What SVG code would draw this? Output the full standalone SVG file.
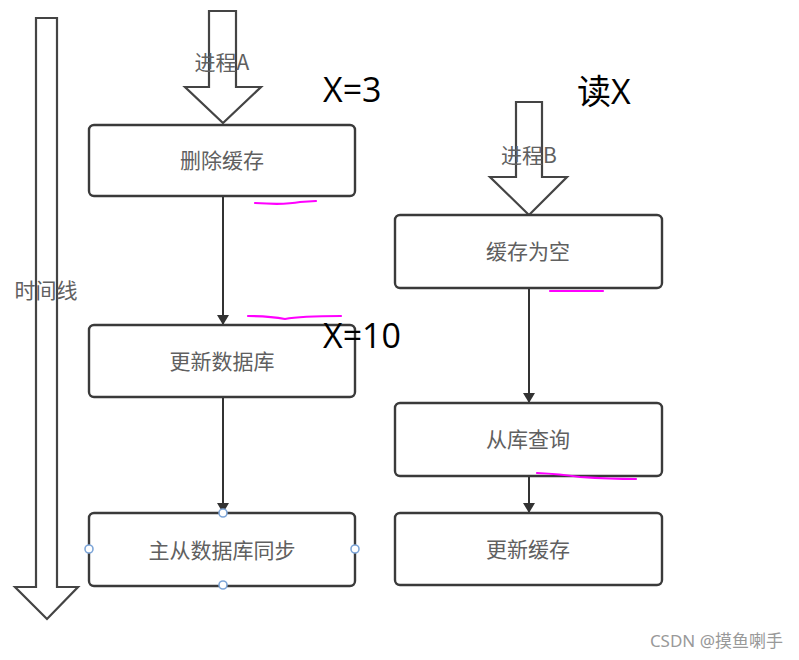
<svg xmlns="http://www.w3.org/2000/svg" width="799" height="660" viewBox="0 0 799 660">
<defs>
<style>
.box{fill:#fff;stroke:#3a3a3a;stroke-width:2.4}
.big{fill:#fff;stroke:#444;stroke-width:2.2;stroke-linejoin:miter}
.lbl{font-family:"Noto Sans CJK SC","Noto Sans",sans-serif;font-size:21px;fill:#606060;text-anchor:middle}
.note{font-family:"Open Sans","Noto Sans CJK SC",sans-serif;font-size:34px;fill:#000}
.conn{stroke:#333;stroke-width:2;fill:none}
.hl{stroke:#f0f;stroke-width:2.2;fill:none;stroke-linecap:round}
.hd{fill:#fff;stroke:#7ea6d8;stroke-width:1.6}
</style>
<marker id="ah" markerWidth="10" markerHeight="12" refX="9" refY="6" orient="auto" markerUnits="userSpaceOnUse">
<path d="M0,0 L10,6 L0,12 Z" fill="#333"/>
</marker>
</defs>
<rect width="799" height="660" fill="#fff"/>

<g id="timeline">
<path class="big" d="M36,18 H57 V587 H78 L47,619 L15,587 H36 Z"/>
<text class="lbl" x="46" y="298">时间线</text>
</g>

<g id="procA">
<path class="big" d="M209,11 H236 V87 H261 L223,123 L185,87 H209 Z"/>
<text class="lbl" x="222" y="70">进程A</text>
</g>

<g id="procB">
<path class="big" d="M516,102 H542 V177 H567 L529,215 L490,177 H516 Z"/>
<text class="lbl" x="529" y="163">进程B</text>
</g>

<g id="connectors">
<line class="conn" x1="223" y1="196" x2="223" y2="324" marker-end="url(#ah)"/>
<line class="conn" x1="223" y1="397" x2="223" y2="512" marker-end="url(#ah)"/>
<line class="conn" x1="529" y1="288" x2="529" y2="402" marker-end="url(#ah)"/>
<line class="conn" x1="529" y1="476" x2="529" y2="512" marker-end="url(#ah)"/>
</g>

<g id="n1"><rect class="box" x="89" y="125" width="266" height="71" rx="5"/><text class="lbl" x="222" y="168">删除缓存</text></g>
<g id="n2"><rect class="box" x="89" y="325" width="266" height="72" rx="5"/><text class="lbl" x="222" y="369">更新数据库</text></g>
<g id="n3"><rect class="box" x="89" y="513" width="266" height="73" rx="5"/><text class="lbl" x="222" y="558">主从数据库同步</text>
<circle class="hd" cx="223" cy="513" r="4"/><circle class="hd" cx="89" cy="549" r="4"/><circle class="hd" cx="355" cy="549" r="4"/><circle class="hd" cx="223" cy="585" r="4"/></g>
<g id="n4"><rect class="box" x="395" y="215" width="267" height="73" rx="5"/><text class="lbl" x="528" y="259">缓存为空</text></g>
<g id="n5"><rect class="box" x="395" y="403" width="267" height="73" rx="5"/><text class="lbl" x="528" y="447">从库查询</text></g>
<g id="n6"><rect class="box" x="395" y="513" width="267" height="72" rx="5"/><text class="lbl" x="528" y="557">更新缓存</text></g>

<g id="notes">
<text class="note" x="323" y="102">X=3</text>
<text class="note" x="577" y="104">读X</text>
<text class="note" x="323" y="348">X=10</text>
</g>

<g id="highlights">
<path class="hl" d="M255,203 Q285,205 300,202 L316,201"/>
<path class="hl" d="M248,316 Q270,316 285,319 Q300,316 341,316"/>
<path class="hl" d="M550,291 L603,291"/>
<path class="hl" d="M537,473 Q560,474 580,477 Q610,479 636,479"/>
</g>

<text x="783" y="647" text-anchor="end" style="font-family:'Noto Sans','Noto Sans CJK SC',sans-serif;font-size:17px;fill:#999">CSDN @摸鱼喇手</text>
</svg>
